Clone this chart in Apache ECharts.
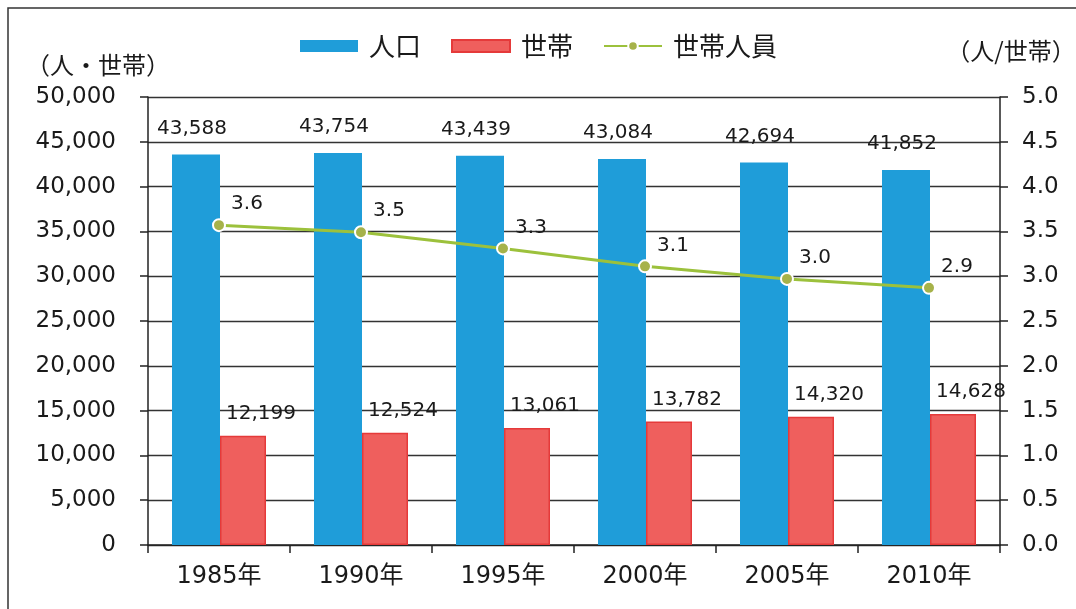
<!DOCTYPE html>
<html>
<head>
<meta charset="utf-8">
<script src="https://cdn.jsdelivr.net/npm/echarts@6/dist/echarts.min.js"></script>
<style>
  html, body { margin: 0; padding: 0; background: #fff; }
  #chart { width: 1076px; height: 609px; }
</style>
</head>
<body>
<div id="chart"></div>
<script>
const years = ['1985年', '1990年', '1995年', '2000年', '2005年', '2010年'];
const population = [43588, 43754, 43439, 43084, 42694, 41852];
const households = [12199, 12524, 13061, 13782, 14320, 14628];
const perHousehold = [3.57, 3.49, 3.31, 3.11, 2.97, 2.87];

const font = '"DejaVu Sans", "Noto Sans CJK JP", sans-serif';
const jpFont = '"Noto Sans CJK JP", sans-serif';
const fmt = v => v.toLocaleString('en-US');

const chart = echarts.init(document.getElementById('chart'), null, { renderer: 'canvas' });

chart.setOption({
  animation: false,
  textStyle: { fontFamily: font, color: '#1a1a1a' },
  graphic: [{
    type: 'rect',
    shape: { x: 8, y: 8, width: 1080, height: 610 },
    style: { fill: 'none', stroke: '#333', lineWidth: 1.5 }
  }],
  legend: {
    top: 28,
    left: 295,
    itemGap: 30,
    itemWidth: 58,
    itemHeight: 12,
    textStyle: { fontSize: 26, fontFamily: jpFont, color: '#1a1a1a', padding: [0, 0, 0, 6] },
    data: [
      { name: '人口', icon: 'rect' },
      { name: '世帯', icon: 'rect' },
      { name: '世帯人員' }
    ]
  },
  grid: { left: 148, right: 76, top: 97, bottom: 64, outerBoundsMode: 'none' },
  xAxis: {
    type: 'category',
    data: years,
    axisLine: { lineStyle: { color: '#222', width: 1.5 } },
    axisTick: { show: true, length: 8, alignWithLabel: false, lineStyle: { color: '#222', width: 1.5 } },
    axisLabel: { fontSize: 24, color: '#1a1a1a', margin: 20, fontFamily: font }
  },
  yAxis: [
    {
      type: 'value',
      min: 0, max: 50000, interval: 5000,
      name: '（人・世帯）',
      nameLocation: 'end',
      nameGap: 20,
      nameTextStyle: { fontSize: 24, fontFamily: jpFont, color: '#1a1a1a', align: 'center', padding: [0, 100, 0, 0] },
      axisLine: { show: true, lineStyle: { color: '#222', width: 1.5 } },
      axisTick: { show: true, length: 8, lineStyle: { color: '#222', width: 1.5 } },
      axisLabel: { fontSize: 23, color: '#1a1a1a', margin: 32, formatter: v => fmt(v) },
      splitLine: { lineStyle: { color: '#333', width: 1.3 } }
    },
    {
      type: 'value',
      min: 0, max: 5, interval: 0.5,
      name: '（人/世帯）',
      nameLocation: 'end',
      nameGap: 34,
      nameTextStyle: { fontSize: 24, fontFamily: jpFont, color: '#1a1a1a', align: 'center', padding: [0, 0, 0, 22] },
      axisLine: { show: true, lineStyle: { color: '#222', width: 1.5 } },
      axisTick: { show: true, length: 8, lineStyle: { color: '#222', width: 1.5 } },
      axisLabel: { fontSize: 23, color: '#1a1a1a', margin: 22, formatter: v => v.toFixed(1) },
      splitLine: { show: false }
    }
  ],
  series: [
    {
      name: '人口',
      type: 'bar',
      data: population,
      barWidth: 48,
      barGap: '0%',
      itemStyle: { color: '#1f9dd9' },
      label: {
        show: true, position: 'top', distance: 16, offset: [-4, 0],
        fontSize: 20, color: '#1a1a1a', formatter: p => fmt(p.value)
      }
    },
    {
      name: '世帯',
      type: 'bar',
      data: households,
      barWidth: 46,
      itemStyle: { color: '#ef5f5d', borderColor: '#e53a3a', borderWidth: 1.5 },
      label: {
        show: true, position: 'top', distance: 12, offset: [18, 0],
        fontSize: 20, color: '#1a1a1a', formatter: p => fmt(p.value)
      }
    },
    {
      name: '世帯人員',
      type: 'line',
      yAxisIndex: 1,
      data: perHousehold,
      symbol: 'circle',
      symbolSize: 12,
      lineStyle: { color: '#9cc13c', width: 3 },
      itemStyle: { color: '#a6b24a', borderColor: '#fff', borderWidth: 2 },
      label: {
        show: true, position: 'top', distance: 8, offset: [28, 4],
        fontSize: 20, color: '#1a1a1a', formatter: p => p.value.toFixed(1)
      },
      z: 5
    }
  ]
});
</script>
</body>
</html>
